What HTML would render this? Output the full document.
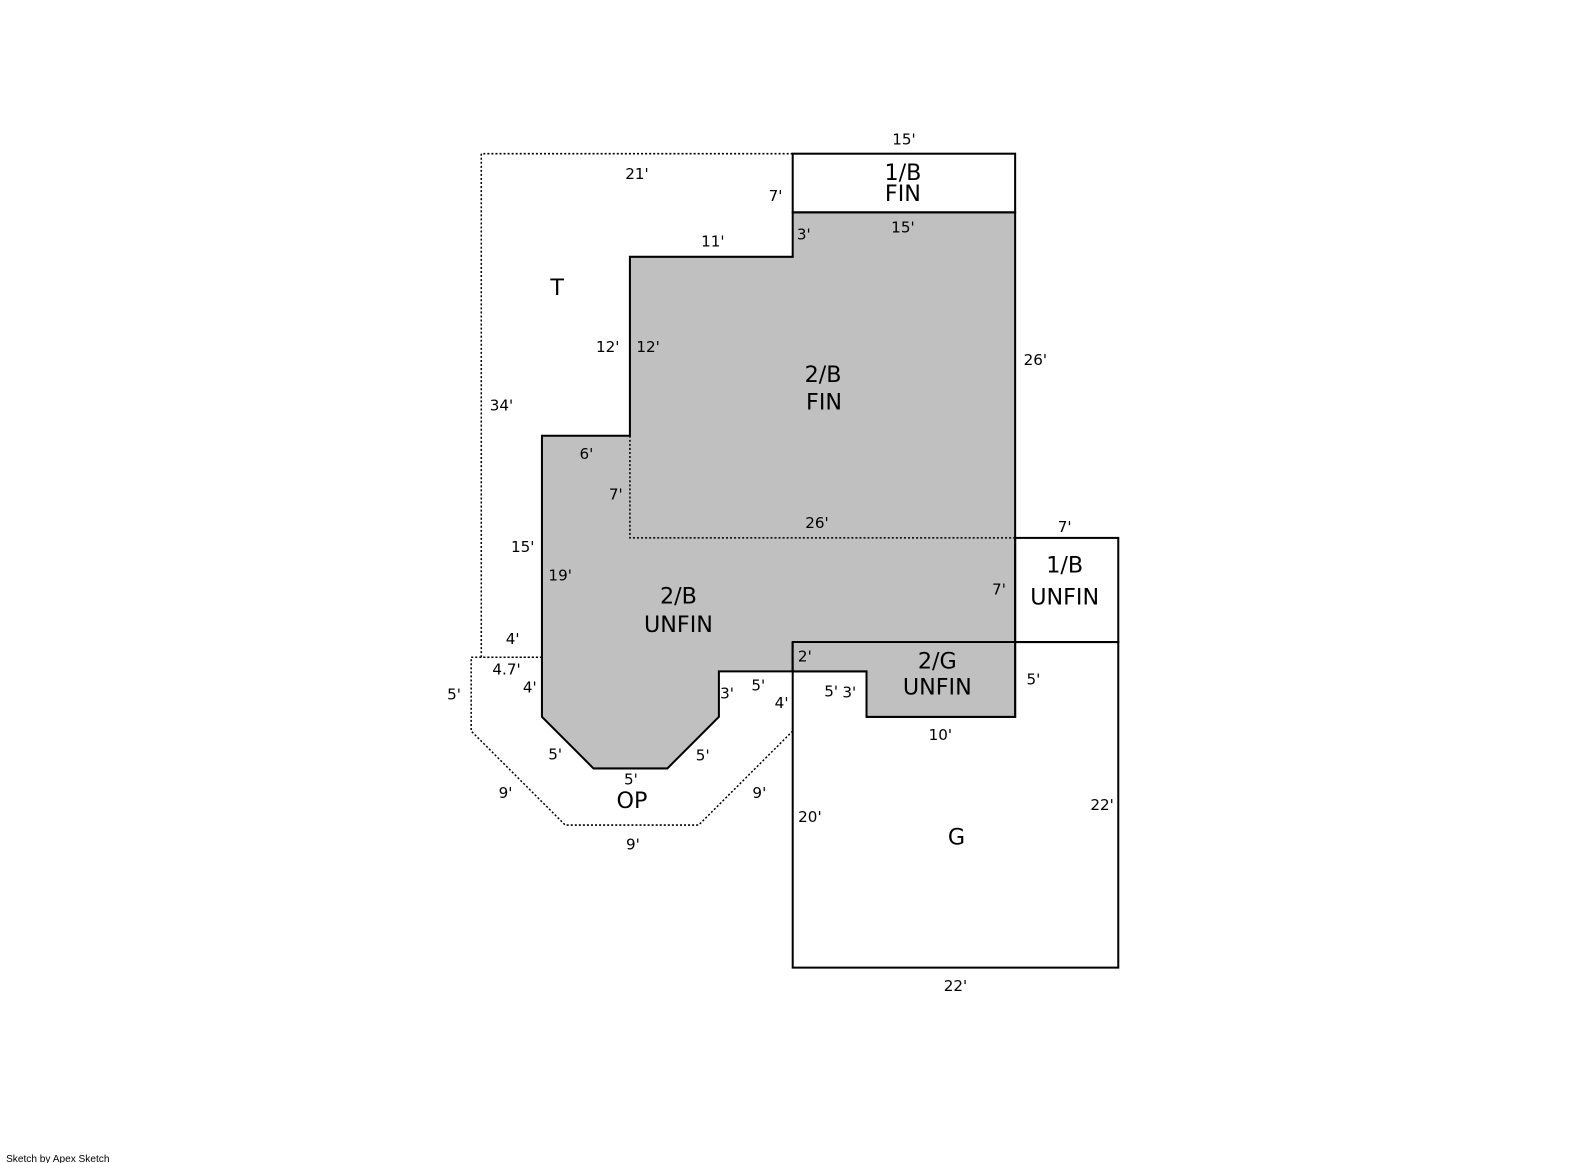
<!DOCTYPE html>
<html><head><style>body{margin:0;background:#fff}svg{display:block}text{font-family:"DejaVu Sans",sans-serif;fill:#000}</style></head><body>
<svg width="1585" height="1163" viewBox="0 0 1585 1163">
<g transform="scale(1.0111)">
<polygon points="784,210 1004,210 1004,709 857,709 857,664 711,664 711,709 660,760 587,760 536,709 536,431 623,431 623,254 784,254" fill="#c0c0c0" stroke="#000" stroke-width="2"/>
<g fill="none" stroke="#000" stroke-width="1.5" stroke-dasharray="2,2">
<polyline points="784,152 476,152 476,650 536,650"/>
<polyline points="623,431 623,532 1004,532"/>
<polyline points="536,650 466,650 466,723 559,816 691,816 784,723"/>
</g>
<g fill="none" stroke="#000" stroke-width="2">
<rect x="784" y="152" width="220" height="58"/>
<rect x="1004" y="532" width="102" height="103"/>
<rect x="784" y="635" width="322" height="322"/>
<line x1="784" y1="635" x2="784" y2="664"/>
</g>
<polygon points="784,636 1003,636 1003,708 858,708 858,663 785,663" fill="#c0c0c0"/>
<polyline points="784,635 784,664 857,664 857,709 1004,709 1004,635" fill="none" stroke="#000" stroke-width="2"/>
<g font-size="15" text-anchor="middle">
<text x="894" y="143">15'</text><text x="630" y="177">21'</text><text x="767" y="199">7'</text>
<text x="893" y="230">15'</text><text x="795" y="237">3'</text><text x="705" y="244">11'</text>
<text x="601" y="348">12'</text><text x="641" y="348">12'</text><text x="1024" y="361">26'</text>
<text x="496" y="406">34'</text><text x="580" y="454">6'</text><text x="609" y="494">7'</text>
<text x="808" y="522">26'</text><text x="1053" y="526">7'</text><text x="517" y="546">15'</text>
<text x="554" y="574">19'</text><text x="988" y="588">7'</text><text x="507" y="637">4'</text>
<text x="796" y="654">2'</text><text x="501" y="667">4.7'</text><text x="1022" y="677">5'</text>
<text x="524" y="685">4'</text><text x="750" y="683">5'</text><text x="719" y="691">3'</text>
<text x="822" y="689">5'</text><text x="840" y="690">3'</text><text x="449" y="692">5'</text>
<text x="773" y="700">4'</text><text x="930" y="732">10'</text>
<text x="549" y="751">5'</text><text x="695" y="752">5'</text><text x="624" y="776">5'</text>
<text x="500" y="789">9'</text><text x="751" y="789">9'</text><text x="1090" y="801">22'</text>
<text x="801" y="813">20'</text><text x="626" y="840">9'</text><text x="945" y="980">22'</text>
</g>
<g font-size="22" text-anchor="middle">
<text x="893" y="178">1/B</text><text x="893" y="199">FIN</text>
<text x="551" y="292">T</text>
<text x="814" y="378">2/B</text><text x="815" y="405">FIN</text>
<text x="1053" y="566">1/B</text><text x="1053" y="598">UNFIN</text>
<text x="671" y="597">2/B</text><text x="671" y="625">UNFIN</text>
<text x="927" y="661">2/G</text><text x="927" y="687">UNFIN</text>
<text x="625" y="799">OP</text><text x="946" y="835">G</text>
</g>
<text x="6" y="1149" font-size="10" style="font-family:'Liberation Sans',sans-serif">Sketch by Apex Sketch</text>
</g>
</svg>
</body></html>
